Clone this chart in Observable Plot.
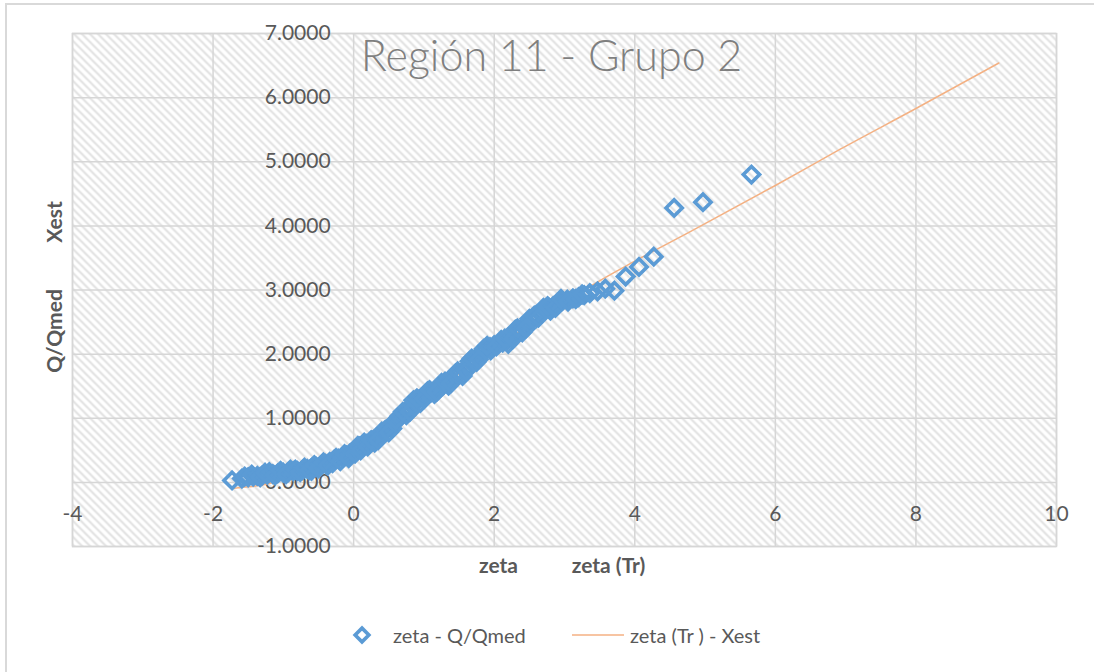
<!DOCTYPE html>
<html>
<head>
<meta charset="utf-8">
<script src="https://cdn.jsdelivr.net/npm/d3@7"></script>
<script src="https://cdn.jsdelivr.net/npm/@observablehq/plot@0.6"></script>
<style>
  html, body { margin: 0; padding: 0; background: #fff; overflow: hidden; }
  body { width: 1094px; height: 672px; position: relative; font-family: Lato, "Open Sans", sans-serif; }
  #box { position: absolute; left: 5px; top: 3px; width: 1200px; height: 800px;
         border-left: 2px solid #d9d9d9; border-top: 2px solid #d9d9d9; box-sizing: border-box; }
  #chart { position: absolute; left: 0; top: 0; }
  #legend { position: absolute; left: 0; top: 615px; }
</style>
</head>
<body>
<div id="box"></div>
<svg width="0" height="0" style="position:absolute">
  <defs>
    <pattern id="hatch" patternUnits="userSpaceOnUse" width="8" height="8">
      <path d="M-2,-2L10,10M-2,6L2,10M6,-2L10,2" stroke="#e2e2e2" stroke-width="2.2"/>
    </pattern>
  </defs>
</svg>
<div id="chart"></div>
<div id="legend"></div>
<script>
// ---- data ----
const title = "Región 11 - Grupo 2";
const seriesPoints = "zeta - Q/Qmed";
const seriesLine = "zeta (Tr ) - Xest";

const xTicks = [-4, -2, 0, 2, 4, 6, 8, 10];
const xTickLabels = ["-4", "-2", "0", "2", "4", "6", "8", "10"];
const yTicks = [-1, 0, 1, 2, 3, 4, 5, 6, 7];
const yTickLabels = ["-1.0000", "0.0000", "1.0000", "2.0000", "3.0000", "4.0000", "5.0000", "6.0000", "7.0000"];

// observed: zeta vs Q/Qmed
const zeta = [
  -1.73, -1.59, -1.50, -1.43, -1.37, -1.30, -1.23, -1.15, -1.08, -1.00,
  -0.93, -0.86, -0.80, -0.73, -0.66, -0.60, -0.53, -0.47, -0.40, -0.34,
  -0.28, -0.22, -0.16, -0.10, -0.05, 0.00, 0.04, 0.08, 0.13, 0.18,
  0.23, 0.28, 0.33, 0.38, 0.43, 0.48, 0.53, 0.58, 0.63, 0.68,
  0.73, 0.78, 0.83, 0.88, 0.93, 0.98, 1.04, 1.10, 1.16, 1.22,
  1.28, 1.34, 1.40, 1.46, 1.52, 1.58, 1.64, 1.70, 1.76, 1.82,
  1.88, 1.94, 2.00, 2.06, 2.12, 2.18, 2.24, 2.30, 2.36, 2.42,
  2.48, 2.54, 2.60, 2.66, 2.72, 2.78, 2.84, 2.90, 2.97, 3.04,
  3.12, 3.20, 3.28, 3.36, 3.47, 3.58, 3.71, 3.87, 4.06, 4.27,
  4.56, 4.97, 5.66,
  -1.20, -0.90, -0.60, -0.30, 0.30, 0.40, 0.55, 0.65, 0.75, 0.85,
  0.95, 1.05, 1.15, 1.25, 1.35, 1.45, 1.55, 1.65, 1.75, 1.85,
  1.95, 2.10, 2.20, 2.30, 2.40, 2.50, 2.60, 2.70, 2.80,
  -1.55, -1.45, -1.33, -1.26, -1.12, -1.04, -0.96, -0.83, -0.76, -0.70,
  -0.63, -0.56, -0.50, -0.43, -0.37, -0.25, -0.19, -0.13, -0.07, 0.02,
  0.06, 0.10, 0.15, 0.20, 0.25, 0.35, 0.45, 0.50, 0.60, 0.70,
  0.80, 0.90, 1.00, 1.08, 1.18, 1.30, 1.38, 1.48, 1.60, 1.68,
  1.78, 1.90, 2.03, 2.15, 2.27, 2.33, 2.45, 2.57, 2.63, 2.76,
  2.87, 2.95, 3.05, 3.16, 3.25
];
const qQmed = [
  0.03, 0.06, 0.08, 0.09, 0.10, 0.11, 0.12, 0.13, 0.14, 0.15,
  0.16, 0.17, 0.18, 0.19, 0.21, 0.22, 0.24, 0.26, 0.29, 0.32,
  0.35, 0.37, 0.39, 0.42, 0.45, 0.49, 0.53, 0.56, 0.58, 0.60,
  0.62, 0.66, 0.70, 0.74, 0.78, 0.83, 0.88, 0.93, 0.98, 1.04,
  1.09, 1.14, 1.20, 1.25, 1.29, 1.33, 1.36, 1.40, 1.44, 1.48,
  1.52, 1.56, 1.60, 1.64, 1.70, 1.76, 1.83, 1.90, 1.96, 2.02,
  2.07, 2.11, 2.14, 2.16, 2.18, 2.21, 2.26, 2.31, 2.36, 2.43,
  2.49, 2.55, 2.61, 2.65, 2.69, 2.72, 2.75, 2.79, 2.83, 2.85,
  2.87, 2.89, 2.92, 2.95, 2.98, 3.02, 2.99, 3.21, 3.36, 3.52,
  4.28, 4.37, 4.80,
  0.16, 0.20, 0.18, 0.30, 0.62, 0.79, 0.84, 1.03, 1.05, 1.28,
  1.24, 1.42, 1.38, 1.55, 1.51, 1.70, 1.66, 1.89, 1.88, 2.08,
  2.06, 2.22, 2.16, 2.38, 2.34, 2.55, 2.56, 2.72, 2.68,
  0.09, 0.12, 0.08, 0.15, 0.11, 0.18, 0.13, 0.20, 0.16, 0.23,
  0.19, 0.27, 0.22, 0.31, 0.26, 0.38, 0.33, 0.44, 0.38, 0.45,
  0.57, 0.50, 0.62, 0.56, 0.66, 0.66, 0.82, 0.78, 0.97, 1.10,
  1.10, 1.31, 1.30, 1.44, 1.41, 1.57, 1.54, 1.73, 1.74, 1.93,
  1.92, 2.13, 2.12, 2.24, 2.24, 2.40, 2.40, 2.60, 2.57, 2.75,
  2.72, 2.86, 2.82, 2.86, 2.93
];

// fitted: zeta(Tr) vs Xest
const zetaTr = [-1.70, -1.50, -1.30, -1.00, -0.50, 0.00, 0.50, 1.00, 1.50, 2.00, 2.50, 3.00, 3.37, 4.00, 4.79, 6.00, 6.93, 8.00, 9.18];
const xest   = [-0.09, -0.07, -0.04, 0.05, 0.26, 0.52, 0.88, 1.28, 1.70, 2.10, 2.45, 2.80, 3.06, 3.45, 3.91, 4.63, 5.20, 5.83, 6.54];

// ---- tables ----
const pts = zeta.map((z, i) => ({z, q: qQmed[i]}));
const fit = zetaTr.map((z, i) => ({z, v: xest[i]}));

const blue = "#5B9BD5", orange = "#F4B183", gridC = "#d6d6d6", textC = "#595959";

const chart = Plot.plot({
  width: 1094,
  height: 600,
  marginLeft: 72,
  marginRight: 38,
  marginTop: 33,
  marginBottom: 54,
  x: {domain: [-4, 10], axis: null},
  y: {domain: [-1, 7], axis: null},
  style: {fontFamily: "Lato, 'Open Sans', sans-serif", background: "transparent", overflow: "visible"},
  marks: [
    Plot.frame({fill: "url(#hatch)", stroke: gridC, strokeWidth: 1.5}),
    Plot.gridX(xTicks, {stroke: gridC, strokeOpacity: 1, strokeWidth: 1.5}),
    Plot.gridY(yTicks, {stroke: gridC, strokeOpacity: 1, strokeWidth: 1.5}),
    Plot.text(yTicks, {x: 0, y: d => d, text: (d, i) => yTickLabels[i], textAnchor: "end", lineAnchor: "middle", dx: -23, fontSize: 21, fill: textC}),
    Plot.text(xTicks, {x: d => d, y: 0, text: (d, i) => xTickLabels[i], lineAnchor: "middle", dy: 32, fontSize: 21, fill: textC}),
    Plot.line(fit, {x: "z", y: "v", stroke: orange, strokeWidth: 1.5, curve: "monotone-x"}),
    Plot.dot(pts, {x: "z", y: "q", symbol: "diamond2", r: 7.3, stroke: blue, strokeWidth: 3.6, fill: "none"}),
    Plot.text([title], {text: d => d, frameAnchor: "top", textAnchor: "middle", lineAnchor: "middle", dx: -13, dy: 24, fontSize: 43, fontWeight: 300, fill: "#7f7f7f"}),
    Plot.text(["Q/Qmed"], {text: d => d, frameAnchor: "left", rotate: -90, textAnchor: "middle", lineAnchor: "middle", dx: -17, dy: 41, fontSize: 21, fontWeight: "bold", fill: textC}),
    Plot.text(["Xest"], {text: d => d, frameAnchor: "left", rotate: -90, textAnchor: "middle", lineAnchor: "middle", dx: -17, dy: -68, fontSize: 21, fontWeight: "bold", fill: textC}),
    Plot.text(["zeta"], {text: d => d, frameAnchor: "bottom", textAnchor: "middle", lineAnchor: "middle", dx: -66, dy: 20, fontSize: 21, fontWeight: "bold", fill: textC}),
    Plot.text(["zeta (Tr)"], {text: d => d, frameAnchor: "bottom", textAnchor: "middle", lineAnchor: "middle", dx: 44, dy: 20, fontSize: 21, fontWeight: "bold", fill: textC})
  ]
});
document.getElementById("chart").appendChild(chart);

// ---- legend ----
const lg = d3.select("#legend").append("svg").attr("width", 1094).attr("height", 40)
  .style("font-family", "Lato, 'Open Sans', sans-serif");
lg.append("path").attr("d", d3.symbol(d3.symbolDiamond2, 120)())
  .attr("transform", "translate(362,20)").attr("fill", "none").attr("stroke", blue).attr("stroke-width", 3.6);
lg.append("text").attr("x", 393).attr("y", 28).attr("font-size", 20).attr("fill", textC).text(seriesPoints);
lg.append("line").attr("x1", 572).attr("x2", 624).attr("y1", 20).attr("y2", 20).attr("stroke", orange).attr("stroke-width", 1.5);
lg.append("text").attr("x", 630).attr("y", 28).attr("font-size", 20).attr("fill", textC).text(seriesLine);
</script>
</body>
</html>
